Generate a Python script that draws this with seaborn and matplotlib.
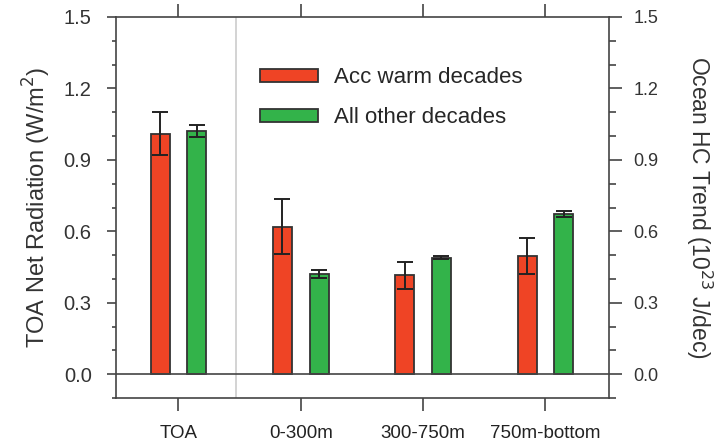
import numpy as np
import pandas as pd
import matplotlib
matplotlib.use("Agg")
import matplotlib.pyplot as plt
import seaborn as sns
from matplotlib.ticker import MultipleLocator
from matplotlib.patches import Patch

# values
layers = ["TOA", "0-300m", "300-750m", "750m-bottom"]
periods = ["Acc warm decades", "All other decades"]
warm_vals = [1.01, 0.62, 0.415, 0.495]
warm_err = [0.09, 0.115, 0.057, 0.075]
other_vals = [1.02, 0.42, 0.49, 0.672]
other_err = [0.025, 0.017, 0.005, 0.012]

colors = ["#ef4425", "#33b34a"]
edge = "#333333"

df = pd.DataFrame({
    "layer": layers * 2,
    "period": [periods[0]] * 4 + [periods[1]] * 4,
    "value": warm_vals + other_vals,
})

sns.set_style("white")
plt.rcParams["font.family"] = ["Liberation Sans", "DejaVu Sans"]

fig = plt.figure(figsize=(7.22, 4.46), dpi=100)
ax = fig.add_axes([0.1607, 0.1076, 0.6828, 0.8543])

sns.barplot(data=df, x="layer", y="value", hue="period", hue_order=periods,
            order=layers, palette=colors, saturation=1, width=0.6, gap=0.48,
            edgecolor=edge, linewidth=1.3, errorbar=None, legend=False, ax=ax)

# error bars on top of the bars
errs = [warm_err, other_err]
for cont, e in zip(ax.containers, errs):
    xs = [b.get_x() + b.get_width() / 2 for b in cont]
    ys = [b.get_height() for b in cont]
    ax.errorbar(xs, ys, yerr=e, fmt="none", ecolor="#222222",
                elinewidth=1.4, capsize=5.5, capthick=1.4, zorder=5)

ax.axhline(0, color="#444444", lw=1.2, zorder=1)
ax.axvline(0.47, color="#cccccc", lw=1.2, zorder=0)

ax.set_xlim(-0.51, 3.52)
ax.set_ylim(-0.1, 1.5)
ax.yaxis.set_major_locator(MultipleLocator(0.3))
ax.yaxis.set_minor_locator(MultipleLocator(0.1))
ax.set_yticks(np.arange(0, 1.51, 0.3))
ax.set_yticklabels([f"{v:.1f}" for v in np.arange(0, 1.51, 0.3)])

for s in ax.spines.values():
    s.set_color("#444444")
    s.set_linewidth(1.2)
    s.set_visible(True)

ax.tick_params(axis="x", which="major", direction="out", length=9.5, width=1.2,
               color="#444444", top=True, bottom=True, labelsize=13.5, pad=10,
               labelcolor="#222222")
ax.tick_params(axis="y", which="major", direction="out", length=6.5, width=1.2,
               color="#444444", left=True, labelsize=14.5, pad=11, labelcolor="#333333")
ax.tick_params(axis="y", which="minor", direction="out", length=3.2, width=1.2,
               color="#444444", left=True)

ax.set_xlabel("")
ax.set_ylabel("TOA Net Radiation (W/m$^2$)", fontsize=17, color="#333333", labelpad=8)

ax2 = ax.twinx()
ax2.set_position(ax.get_position())
ax2.set_ylim(-0.1, 1.5)
ax2.set_yticks(np.arange(0, 1.51, 0.3))
ax2.set_yticklabels([f"{v:.1f}" for v in np.arange(0, 1.51, 0.3)])
ax2.yaxis.set_minor_locator(MultipleLocator(0.1))
for s in ax2.spines.values():
    s.set_visible(False)
ax2.tick_params(axis="y", which="major", direction="out", length=9.4, width=1.2,
                color="#444444", right=True, labelsize=13, pad=8, labelcolor="#333333")
ax2.tick_params(axis="y", which="minor", direction="out", length=5, width=1.2,
                color="#444444", right=True)
ax2.set_ylabel("Ocean HC Trend (10$^{23}$ J/dec)", fontsize=16.5, color="#333333",
               rotation=270, labelpad=40)

handles = [Patch(facecolor=c, edgecolor=edge, linewidth=1.3) for c in colors]
ax.legend(handles, periods, loc="upper left", bbox_to_anchor=(0.252, 0.92),
          frameon=False, fontsize=16, handlelength=2.6, handleheight=0.5,
          handletextpad=0.7, labelspacing=0.85)

fig.savefig("out.png", dpi=100)
